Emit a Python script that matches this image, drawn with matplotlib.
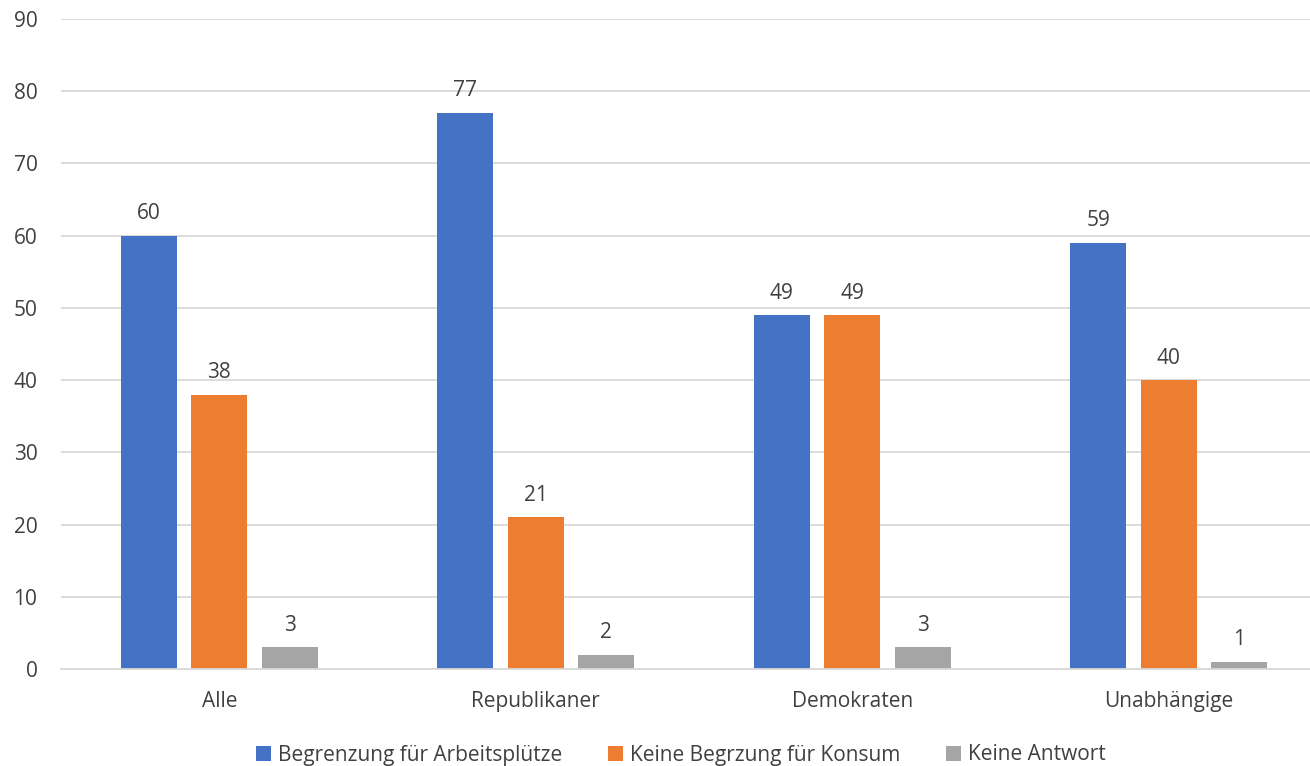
import matplotlib
matplotlib.use("Agg")
import matplotlib.pyplot as plt
import numpy as np

plt.rcParams['font.family'] = ['Open Sans', 'DejaVu Sans']

categories = ["Alle", "Republikaner", "Demokraten", "Unabhängige"]
series_names = ["Begrenzung für Arbeitsplütze", "Keine Begrzung für Konsum", "Keine Antwort"]
begrenzung = [60, 77, 49, 59]
keine_begrenzung = [38, 21, 49, 40]
keine_antwort = [3, 2, 3, 1]
colors = ["#4472C4", "#ED7D31", "#A5A5A5"]
yticks = [0, 10, 20, 30, 40, 50, 60, 70, 80, 90]

W, H = 1310, 766
fig = plt.figure(figsize=(W / 100, H / 100), dpi=100)
left, right = 61 / W, 1327 / W
bottom, top = 1 - 669 / H, 1 - 19 / H
ax = fig.add_axes([left, bottom, right - left, top - bottom])

x = np.arange(len(categories))
offset = 70.5 / 316.6
width = 56 / 316.6
text_color = "#404040"
fs = 15
for i, (vals, name, c) in enumerate(zip([begrenzung, keine_begrenzung, keine_antwort], series_names, colors)):
    pos = x + (i - 1) * offset
    ax.bar(pos, vals, width=width, color=c, label=name, zorder=3)
    for p, v in zip(pos, vals):
        ax.text(p, v + 1.6, str(v), ha="center", va="bottom", fontsize=fs, color=text_color)

ax.set_xlim(-0.5, 3.5)
ax.set_ylim(0, 90)
ax.set_yticks(yticks)
ax.set_xticks(x)
ax.set_xticklabels(categories)
ax.tick_params(axis="both", length=0, labelsize=fs, colors=text_color)
ax.tick_params(axis="x", pad=16)
ax.tick_params(axis="y", pad=17)
ax.grid(axis="y", color="#D9D9D9", linewidth=1.3, zorder=0)
for s in ["top", "right", "left"]:
    ax.spines[s].set_visible(False)
ax.spines["bottom"].set_color("#D9D9D9")
ax.spines["bottom"].set_linewidth(1.3)
ax.spines["bottom"].set_zorder(4)

leg = fig.legend(loc="center", bbox_to_anchor=(681 / W, 1 - 755 / H), ncol=3, frameon=False,
                 fontsize=fs, handlelength=0.7, handleheight=0.7, handletextpad=0.35,
                 columnspacing=2.2)
for t in leg.get_texts():
    t.set_color(text_color)

fig.savefig("out.png", dpi=100)
